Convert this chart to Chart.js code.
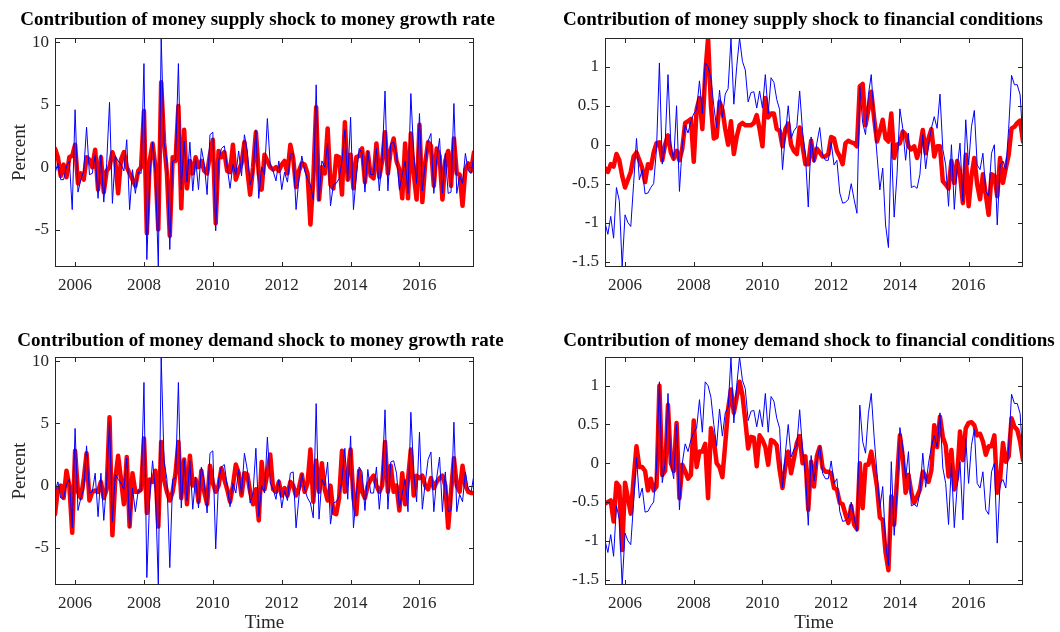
<!DOCTYPE html>
<html>
<head>
<meta charset="utf-8">
<script src="https://cdn.jsdelivr.net/npm/chart.js@4/dist/chart.umd.min.js"></script>
<style>
  body { margin: 0; background: #fff; width: 1060px; height: 632px; position: relative; overflow: hidden; }
  canvas { position: absolute; }
</style>
</head>
<body>
<canvas id="supplyGrowthChart" width="530" height="316" style="left:0;top:0"></canvas>
<canvas id="supplyFinChart" width="530" height="316" style="left:530px;top:0"></canvas>
<canvas id="demandGrowthChart" width="530" height="316" style="left:0;top:316px"></canvas>
<canvas id="demandFinChart" width="530" height="316" style="left:530px;top:316px"></canvas>
<script>
// monthly observations, Jun 2005 .. Aug 2017
const startYear = 2005;
const startMonth = 6;

const yearTicks = [2006, 2008, 2010, 2012, 2014, 2016];
const growthTicks = [-5, 0, 5, 10];
const finTicks = [-1.5, -1, -0.5, 0, 0.5, 1];

// money growth rate (blue, left column)
const moneyGrowth = [
  -0.5, 0.3, -1.0, -1.0, 0.1, 0.5, -3.4, 4.6, -2.0, -1.0,
  -0.3, 3.2, -0.6, -0.5, 1.0, -2.5, 1.0, -2.8, 0.3, 5.2,
  -2.9, 0.9, 0.5, 0.2, -0.3, 2.2, -3.4, -0.2, -2.1, -0.4,
  -0.5, 8.3, -7.4, -1.0, 2.0, -0.5, -8.0, 10.35, 2.0, 0.5,
  -6.6, 0.5, 0.6, 8.3, -1.8, 2.1, -1.2, 2.0, -1.9, 0.7,
  -1.8, 1.5, 0.3, -2.2, 2.6, 2.8, -5.1, 0.5, 1.5, 1.7,
  0.0, -1.7, 0.2, -0.6, 1.3, -0.7, 2.6, 1.3, -1.4, -0.6,
  3.0, -2.5, 0.0, -0.6, 3.9, 0.2, -0.3, -1.1, 0.5, -1.8,
  -0.4, -1.2, 1.0, 1.1, -3.4, -0.9, 0.9, -0.3, -1.0, -1.4,
  -2.6, 6.6, -2.7, 0.5, 0.0, 1.9, -3.1, -1.4, -1.3, -0.9,
  0.5, 3.0, -1.1, 4.0, -3.4, -0.7, 1.5, 1.1, -2.0, 1.3,
  -0.6, -0.6, 1.5, -1.9, 0.7, 6.1, -1.9, 1.9, 2.0, 1.0,
  -1.8, -0.6, 0.5, -2.1, 5.9, 1.0, -1.3, 4.3, -1.9, 0.2,
  2.1, 2.7, -2.1, 0.6, 2.3, -2.1, 1.1, -2.1, -2.0, 5.1,
  -2.1, -0.7, -1.3, 1.1, -0.3, -0.5, 0.9
];

// money supply shock contribution to money growth (red, top left)
const supplyGrowth = [
  1.5, 0.8, -0.7, 0.2, -0.8, 0.8, 0.9, 1.8, -1.3, -0.5,
  -1.0, 0.8, 0.6, 0.0, 1.4, -1.8, 0.8, -2.0, -0.3, 0.0,
  1.2, 0.5, -2.1, 0.6, 1.2, 0.0, -0.5, -1.0, -1.5, -0.3,
  0.0, 4.5, -5.3, 0.5, 1.9, 0.0, -5.0, 6.8, 2.0, -0.5,
  -5.5, 0.8, 0.5, 4.9, -3.3, 3.0, -1.7, 0.5, -0.5, 0.8,
  0.0, 0.5, -0.3, -0.5, 1.0, 2.2, -4.5, 1.3, 0.8, 1.2,
  -0.3, -0.4, 1.8, -1.0, -0.3, 0.3, 2.0, -0.2, -2.2, 0.0,
  2.8, -0.5, -1.8, 1.0, 0.5, 0.0, -0.2, 0.0, -0.3, 0.2,
  0.5, -0.5, 1.8, 0.7, -1.6, -0.3, 0.3, 0.2, -0.5, -4.6,
  -1.0, 4.8, -2.6, 0.0, -0.5, 3.1, -1.4, -1.7, 0.9, 0.8,
  -2.2, 3.6, -1.0, 1.0, -1.7, 0.8, 0.9, 1.5, -1.2, 1.2,
  -0.7, -0.9, 1.9, -0.8, 0.5, 2.8, -0.5, 1.4, 2.3, 0.5,
  -0.2, -2.5, 1.9, -2.5, 2.7, -0.5, -2.6, 3.4, -2.8, 0.3,
  2.0, 1.7, -1.5, 1.5, 0.9, -2.6, 0.5, 1.3, -1.5, 2.3,
  -0.5, -0.6, -3.1, -0.2, 0.3, -0.3, 1.2
];

// money demand shock contribution to money growth (red, bottom left)
const demandGrowth = [
  -2.3, -0.3, 0.0, -1.0, 1.2, 0.0, -3.8, 2.8, -0.5, -1.0,
  0.5, 2.6, -1.2, -0.5, -0.4, -0.5, 0.3, -1.0, -0.3, 5.5,
  -4.0, 0.5, 2.4, 0.5, -1.5, 2.3, -3.3, 1.0, -0.5, -0.5,
  -0.3, 3.8, -2.2, 0.5, 0.3, 1.2, -3.3, 3.5, 0.5, -0.5,
  -1.2, -0.5, 1.0, 3.5, -1.0, 2.1, -1.5, 2.4, 0.0, 0.5,
  -1.3, 1.2, -0.5, -1.5, 1.6, 0.2, -0.5, 0.0, 1.4, 0.5,
  -0.3, -1.3, 0.0, 1.7, 1.0, -0.8, 1.0, 0.9, -0.5, -1.5,
  -0.3, -2.8, 1.9, -0.3, 1.0, 2.5, -0.3, -0.5, 0.3, -0.8,
  -0.2, -0.8, 0.3, 0.0, -0.8, -0.2, 0.9, -0.5, 0.2, 2.9,
  -1.3, 2.0, -0.5, 1.8, -0.3, -1.2, 0.0, -2.2, -2.3, -1.0,
  2.8, -0.5, 1.0, 2.9, -1.0, -2.3, 1.2, -0.5, -1.0, 0.0,
  0.5, 0.8, 0.0, -0.5, 0.0, 3.5, -0.5, 1.6, -0.5, 0.0,
  -2.0, 1.0, -1.5, 0.5, 2.9, -0.8, 0.8, 0.6, 0.8, 0.0,
  -0.3, 0.6, -0.2, 0.3, 0.6, 0.8, 0.0, -3.4, -0.5, 2.2,
  0.0, -0.5, 1.6, 0.0, -0.5, -0.6, -0.6
];

// financial conditions index (blue, right column)
const finConditions = [
  -1.0, -1.15, -0.92, -1.2, -0.55, -0.72, -1.57, -0.9, -1.0, -1.05,
  -0.5, 0.08, -0.45, -0.32, -0.63, -0.62, -0.55, -0.5, -0.05, 1.05,
  -0.25, 0.0, 0.9, 0.0, -0.2, 0.5, -0.6, 0.0, 0.25, 0.15,
  0.3, 0.4, 0.45, 0.82, 0.4, 1.05, 1.0, 0.85, 0.5, 0.22,
  0.7, 0.35, 0.65, 0.72, 1.36, 0.52, 1.0, 1.37, 1.07, 0.96,
  0.55, 0.67, 0.68, 0.47, 0.69, 0.47, 0.9, 0.4, 0.86, 0.8,
  0.58, 0.45, -0.32, 0.13, 0.5, 0.08, 0.18, 0.23, 0.69, 0.17,
  -0.13, -0.8, 0.1, -0.23, 0.02, 0.22, -0.13, -0.2, -0.2, 0.03,
  -0.26, -0.2, -0.62, -0.75, -0.74, -0.7, -0.5, -0.7, -0.88, 0.75,
  0.28, 0.13, 0.64, 0.9, 0.34, -0.13, -0.58, -0.3, -1.03, -1.32,
  0.02, -0.93, -0.38, 0.46, 0.21, -0.2, 0.15, -0.55, -0.53, -0.56,
  -0.38, 0.13, -0.31, 0.0, 0.21, 0.36, 0.21, 0.65, -0.06, -0.26,
  -0.79, 0.0, -0.83, -0.3, 0.02, -0.73, 0.32, -0.26, 0.23, 0.44,
  -0.26, -0.32, -0.11, -0.6, -0.66, -0.11, 0.0, -1.03, -0.26, -0.21,
  -0.32, 0.21, 0.89, 0.77, 0.77, 0.64, 0.04
];

// money supply shock contribution to financial conditions (red, top right)
const supplyFin = [
  -0.3, -0.35, -0.25, -0.28, -0.12, -0.2, -0.4, -0.55, -0.45, -0.35,
  -0.15, -0.1, -0.2, -0.3, -0.48, -0.25, -0.3, -0.1, 0.02, 0.03,
  -0.2, 0.0, 0.12, -0.1, -0.18, -0.08, -0.2, -0.05, 0.28, 0.3,
  0.33, -0.22, 0.45, 0.6, 0.2, 0.9, 1.37, 0.5, 0.08, 0.1,
  0.55, 0.45, 0.2, 0.0, 0.3, -0.12, 0.1, 0.25, 0.28, 0.25,
  0.25, 0.25, 0.28, 0.38, 0.2, -0.02, 0.6, 0.35, 0.4, 0.4,
  0.2, 0.18, -0.02, 0.2, 0.27, 0.0, -0.08, -0.12, 0.22, -0.02,
  -0.25, -0.25, 0.05, -0.2, -0.05, -0.1, -0.15, -0.15, -0.12, 0.1,
  0.08, -0.08, -0.15, -0.25, 0.02, 0.05, 0.03, 0.02, -0.02, 0.75,
  0.78, 0.25, 0.45, 0.68, 0.34, 0.04, 0.17, 0.32, 0.08, 0.04,
  0.4, -0.17, 0.0, 0.02, 0.17, 0.13, -0.02, -0.06, -0.02, -0.17,
  -0.04, 0.19, -0.11, 0.08, 0.2, -0.15, -0.02, -0.02, -0.47, -0.51,
  -0.56, -0.21, -0.49, -0.21, -0.38, -0.75, -0.13, -0.79, -0.4, -0.17,
  -0.51, -0.7, -0.38, -0.64, -0.9, -0.38, -0.4, -0.66, -0.17, -0.49,
  -0.3, -0.13, 0.21, 0.23, 0.28, 0.31, 0.04
];

// money demand shock contribution to financial conditions (red, bottom right)
const demandFin = [
  -0.52, -0.5, -0.48, -0.75, -0.25, -0.3, -1.12, -0.25, -0.45, -0.65,
  -0.2, 0.22, -0.05, -0.05, -0.1, -0.35, -0.2, -0.35, -0.3, 1.0,
  -0.15, -0.1, 0.75, 0.0, -0.1, 0.52, -0.45, -0.02, -0.1, -0.2,
  -0.15, 0.55, -0.05, 0.15, 0.15, 0.25, -0.45, 0.45, 0.3, 0.0,
  -0.05, -0.18, 0.25, 0.7, 0.95, 0.65, 0.85, 1.05, 0.88, 0.55,
  0.19, 0.34, 0.33, -0.04, 0.36, 0.3, 0.21, -0.02, 0.3, 0.28,
  0.23, -0.09, -0.32, -0.04, 0.15, -0.13, 0.06, 0.26, 0.35, 0.0,
  0.09, -0.6, 0.02, -0.3, 0.09, 0.21, -0.06, -0.11, -0.11, -0.13,
  -0.32, -0.34, -0.51, -0.53, -0.66, -0.77, -0.55, -0.79, -0.85, 0.0,
  -0.58, -0.02, -0.02, 0.15, -0.06, -0.3, -0.7, -0.73, -1.15, -1.38,
  -0.43, -0.79, -0.21, 0.36, 0.09, -0.38, -0.15, -0.38, -0.51, -0.43,
  -0.34, -0.11, -0.17, -0.24, -0.09, 0.49, 0.21, 0.6, 0.34, 0.23,
  -0.17, 0.17, -0.34, -0.17, 0.41, 0.04, 0.45, 0.52, 0.53, 0.49,
  0.36, 0.38, 0.28, 0.11, 0.22, 0.22, 0.36, -0.38, -0.21, 0.26,
  0.02, 0.09, 0.58, 0.47, 0.43, 0.28, 0.04
];

const xMin = startYear + (startMonth - 1) / 12;
const xMax = xMin + (moneyGrowth.length - 1) / 12;

const serif = '"Liberation Serif", "Times New Roman", serif';
const axisColor = '#262626';

function toPoints(values) {
  return values.map((v, i) => ({ x: xMin + i / 12, y: v }));
}

// box, inward tick marks and the panel labels
const axesBox = {
  id: 'axesBox',
  afterDatasetsDraw(chart, args, opts) {
    const { ctx, chartArea: a, scales: { x, y } } = chart;
    ctx.save();
    ctx.strokeStyle = axisColor;
    ctx.lineWidth = 1;
    ctx.strokeRect(a.left + 0.5, a.top + 0.5, a.right - a.left - 1, a.bottom - a.top - 1);
    ctx.beginPath();
    x.ticks.forEach(t => {
      const px = Math.round(x.getPixelForValue(t.value)) + 0.5;
      ctx.moveTo(px, a.bottom); ctx.lineTo(px, a.bottom - 5);
      ctx.moveTo(px, a.top); ctx.lineTo(px, a.top + 5);
    });
    y.ticks.forEach(t => {
      const py = Math.round(y.getPixelForValue(t.value)) + 0.5;
      ctx.moveTo(a.left, py); ctx.lineTo(a.left + 5, py);
      ctx.moveTo(a.right, py); ctx.lineTo(a.right - 5, py);
    });
    ctx.stroke();

    ctx.fillStyle = '#000';
    ctx.textAlign = 'center';
    ctx.textBaseline = 'middle';
    ctx.font = 'bold 19px ' + serif;
    ctx.fillText(opts.title, (a.left + a.right) / 2 + opts.titleShift, opts.titleY);

    ctx.fillStyle = axisColor;
    ctx.font = '19px ' + serif;
    if (opts.yLabel) {
      ctx.save();
      ctx.translate(opts.yLabelX, (a.top + a.bottom) / 2);
      ctx.rotate(-Math.PI / 2);
      ctx.fillText(opts.yLabel, 0, 0);
      ctx.restore();
    }
    if (opts.xLabel) {
      ctx.fillText(opts.xLabel, (a.left + a.right) / 2, opts.xLabelY);
    }
    ctx.restore();
  }
};

function makePanel(canvasId, p) {
  const canvas = document.getElementById(canvasId);
  return new Chart(canvas, {
    type: 'line',
    data: {
      datasets: [
        { data: toPoints(p.total), borderColor: '#0000ff', borderWidth: 1,
          pointRadius: 0, tension: 0 },
        { data: toPoints(p.shock), borderColor: '#ff0000', borderWidth: 4.5,
          pointRadius: 0, tension: 0, borderJoinStyle: 'round', borderCapStyle: 'round' }
      ]
    },
    options: {
      responsive: false,
      animation: false,
      layout: { padding: { top: p.area.top, right: canvas.width - p.area.right, left: 0, bottom: 0 } },
      plugins: {
        legend: { display: false },
        tooltip: { enabled: false },
        axesBox: { title: p.title, titleY: p.titleY, titleShift: p.titleShift,
                   yLabel: p.yLabel, yLabelX: 20, xLabel: p.xLabel, xLabelY: 307 }
      },
      scales: {
        x: {
          type: 'linear', min: xMin, max: xMax,
          grid: { display: false, drawTicks: false },
          border: { display: false },
          afterBuildTicks: s => { s.ticks = yearTicks.map(v => ({ value: v })); },
          afterFit: s => { s.height = canvas.height - p.area.bottom; },
          ticks: { padding: 8, maxRotation: 0, color: axisColor,
                   font: { family: serif, size: 17 }, callback: v => String(v) }
        },
        y: {
          type: 'linear', min: p.yMin, max: p.yMax,
          grid: { display: false, drawTicks: false },
          border: { display: false },
          afterBuildTicks: s => { s.ticks = p.yTicks.map(v => ({ value: v })); },
          afterFit: s => { s.width = p.area.left; },
          ticks: { padding: 6, color: axisColor,
                   font: { family: serif, size: 17 }, callback: v => String(v) }
        }
      }
    },
    plugins: [axesBox]
  });
}

makePanel('supplyGrowthChart', {
  total: moneyGrowth, shock: supplyGrowth,
  title: 'Contribution of money supply shock to money growth rate', titleY: 20, titleShift: -7,
  yLabel: 'Percent', yMin: -8, yMax: 10.35, yTicks: growthTicks,
  area: { left: 55, right: 474, top: 38, bottom: 267 }
});

makePanel('supplyFinChart', {
  total: finConditions, shock: supplyFin,
  title: 'Contribution of money supply shock to financial conditions', titleY: 20, titleShift: -11,
  yMin: -1.57, yMax: 1.37, yTicks: finTicks,
  area: { left: 75, right: 493, top: 38, bottom: 267 }
});

makePanel('demandGrowthChart', {
  total: moneyGrowth, shock: demandGrowth,
  title: 'Contribution of money demand shock to money growth rate', titleY: 25, titleShift: -4,
  yLabel: 'Percent', xLabel: 'Time', yMin: -8, yMax: 10.35, yTicks: growthTicks,
  area: { left: 55, right: 474, top: 41, bottom: 269 }
});

makePanel('demandFinChart', {
  total: finConditions, shock: demandFin,
  title: 'Contribution of money demand shock to financial conditions', titleY: 25, titleShift: -5,
  xLabel: 'Time', yMin: -1.57, yMax: 1.37, yTicks: finTicks,
  area: { left: 75, right: 493, top: 41, bottom: 269 }
});
</script>
</body>
</html>
